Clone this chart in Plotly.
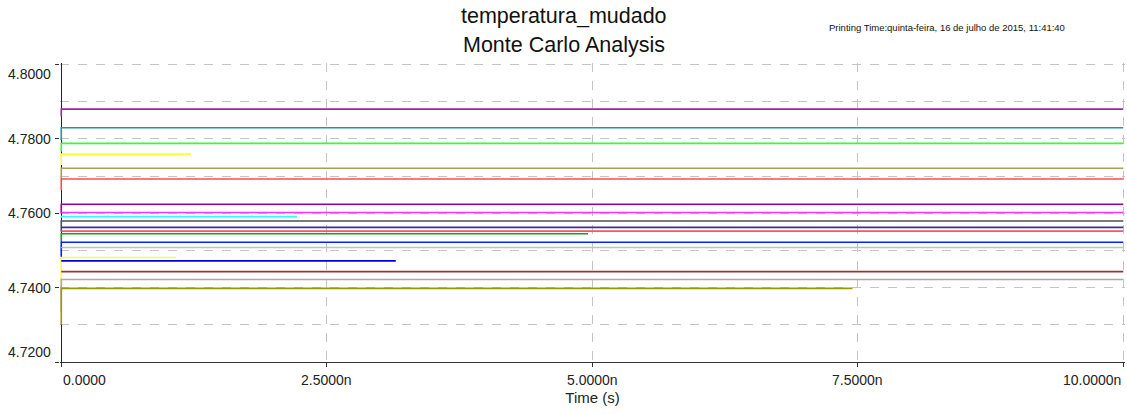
import plotly.graph_objects as go

# ---- data (time in ns, voltage in V) ----
levels = [4.7880, 4.7830, 4.7788, 4.7759, 4.7721, 4.7692, 4.7624, 4.7602, 4.7591, 4.7579,
          4.7562, 4.7552, 4.7545, 4.7522, 4.7508, 4.7481, 4.7472, 4.7443, 4.7422, 4.7398]
starts = [4.7860, 4.7797, 4.7766, 4.7730, 4.7694, 4.7662, 4.7600, 4.7602, 4.7588, 4.7550,
          4.7562, 4.7552, 4.7524, 4.7483, 4.7508, 4.7407, 4.7472, 4.7443, 4.7335, 4.7300]
end_times = [10, 10, 10, 1.22, 10, 10, 10, 10, 2.22, 10,
             10, 10, 4.96, 10, 10, 1.08, 3.15, 10, 10, 7.45]
colors = ["#9a2a9a", "#1a9a9a", "#33ff33", "#ffff33", "#a3a350", "#ff4d4d", "#990099", "#ff33ff",
          "#33ffff", "#505050", "#333399", "#ff5555", "#229922", "#0022ff", "#c0c0c0", "#ffff33",
          "#0000dd", "#993333", "#a8a8a8", "#999900"]

x_ticks = [0, 2.5, 5, 7.5, 10]
x_labels = ["0.0000", "2.5000n", "5.0000n", "7.5000n", "10.0000n"]
y_ticks = [4.72, 4.74, 4.76, 4.78, 4.80]
y_labels = ["4.7200", "4.7400", "4.7600", "4.7800", "4.8000"]

FONT = "Liberation Sans, Arial, sans-serif"

fig = go.Figure()
for lv, st, te, c in zip(levels, starts, end_times, colors):
    fig.add_trace(go.Scatter(x=[0, 0, te], y=[st, lv, lv], mode="lines",
                             line=dict(color=c, width=1.6), showlegend=False,
                             hoverinfo="skip"))

annotations = []
for i, (v, t) in enumerate(zip(x_ticks, x_labels)):
    anchor = "left" if i == 0 else ("right" if i == len(x_ticks) - 1 else "center")
    annotations.append(dict(x=v, xref="x", y=0, yref="paper", text=t, showarrow=False,
                            xanchor=anchor, yanchor="top", yshift=-8,
                            font=dict(family=FONT, size=14, color="#222")))
for i, (v, t) in enumerate(zip(y_ticks, y_labels)):
    anchor = "bottom" if i == 0 else ("top" if i == len(y_ticks) - 1 else "middle")
    annotations.append(dict(x=0, xref="x", y=v, yref="y", text=t, showarrow=False,
                            xanchor="right", yanchor=anchor, xshift=-8,
                            font=dict(family=FONT, size=14, color="#222")))

annotations += [
    dict(x=0.4732, xref="paper", y=1.158, yref="paper", text="temperatura_mudado",
         showarrow=False, xanchor="center", yanchor="middle",
         font=dict(family=FONT, size=21.5, color="#111")),
    dict(x=0.4732, xref="paper", y=1.0606, yref="paper", text="Monte Carlo Analysis",
         showarrow=False, xanchor="center", yanchor="middle",
         font=dict(family=FONT, size=21.5, color="#111")),
    dict(x=0.833, xref="paper", y=1.118, yref="paper",
         text="Printing Time:quinta-feira, 16 de julho de 2015, 11:41:40",
         showarrow=False, xanchor="center", yanchor="middle",
         font=dict(family=FONT, size=9.5, color="#111")),
]

fig.update_layout(
    width=1127, height=414,
    margin=dict(l=60, r=2, t=63, b=52),
    paper_bgcolor="white", plot_bgcolor="white",
    annotations=annotations,
    xaxis=dict(range=[-0.012, 10.016], tickvals=x_ticks, showticklabels=False,
               ticks="outside", ticklen=4, tickcolor="#333",
               showline=True, linecolor="#333", linewidth=1,
               showgrid=True, gridcolor="#c4c4c4", griddash="dash", gridwidth=1,
               zeroline=True, zerolinecolor="#222", zerolinewidth=1,
               layer="below traces",
               title=dict(text="Time (s)", font=dict(family=FONT, size=15, color="#222"),
                          standoff=26)),
    yaxis=dict(range=[4.72, 4.8004], tickvals=y_ticks, showticklabels=False,
               ticks="outside", ticklen=4, tickcolor="#333",
               showline=False,
               showgrid=True, gridcolor="#c4c4c4", griddash="dash", gridwidth=1,
               minor=dict(dtick=0.01, tick0=4.72, showgrid=True, gridcolor="#c4c4c4",
                          griddash="dash", gridwidth=1, ticks=""),
               zeroline=False, layer="below traces"),
)

fig.write_html("out.html")
